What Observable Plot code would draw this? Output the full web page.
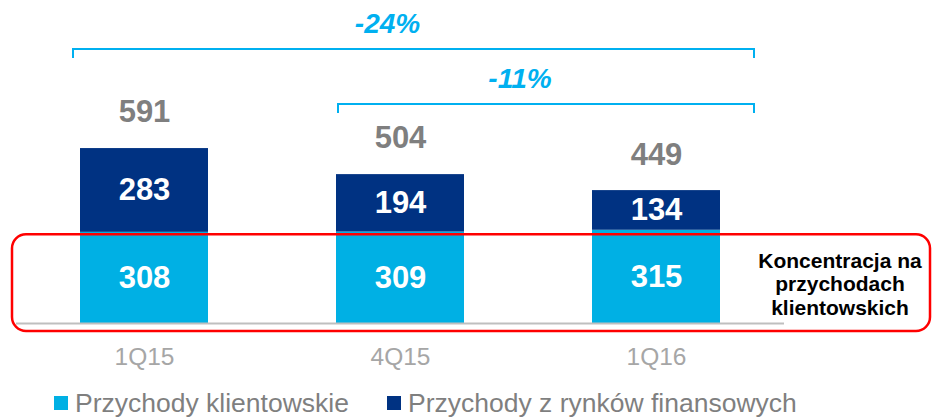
<!DOCTYPE html>
<html><head><meta charset="utf-8">
<script src="https://cdn.jsdelivr.net/npm/d3@7"></script>
<script src="https://cdn.jsdelivr.net/npm/@observablehq/plot@0.6"></script>
<style>
body{margin:0;background:#fff;font-family:"Liberation Sans",Arial,sans-serif;}
#chart{width:932px;height:372px;}
#legend{position:relative;height:46px;width:932px;font-size:26.5px;color:#7f7f7f;}
.li{position:absolute;top:16px;display:flex;align-items:center;white-space:nowrap;line-height:30px;}
.sw{width:14px;height:14px;margin-right:7px;display:inline-block;}
</style></head>
<body>
<div id="chart"></div>
<div id="legend"></div>
<script>
const categories = ["1Q15", "4Q15", "1Q16"];
const clientRevenue = [308, 309, 315];
const marketRevenue = [283, 194, 134];
const totals = [591, 504, 449];
const seriesNames = ["Przychody klientowskie", "Przychody z rynków finansowych"];
const brackets = [
  {from: "1Q15", to: "1Q16", label: "-24%", level: 926},
  {from: "4Q15", to: "1Q16", label: "-11%", level: 740}
];
const noteLines = ["Koncentracja na", "przychodach", "klientowskich"];

const cLight = "#00b0e4", cDark = "#003282", cAccent = "#00b0f0";
const font = "Liberation Sans, Arial, sans-serif";

const segs = [];
categories.forEach((c, i) => {
  segs.push({cat: c, series: seriesNames[0], y1: 0, y2: clientRevenue[i], v: clientRevenue[i]});
  segs.push({cat: c, series: seriesNames[1], y1: clientRevenue[i], y2: clientRevenue[i] + marketRevenue[i], v: marketRevenue[i]});
});
const tot = categories.map((c, i) => ({cat: c, v: totals[i]}));

const plot = Plot.plot({
  width: 932, height: 372,
  marginTop: 27, marginBottom: 49, marginLeft: 16, marginRight: 148,
  style: {fontFamily: font, overflow: "visible"},
  x: {domain: categories, paddingInner: 0.5, paddingOuter: 0.25, axis: null},
  y: {domain: [0, 1000], axis: null},
  color: {domain: seriesNames, range: [cLight, cDark]},
  marks: [
    Plot.rectY(segs, {x: "cat", y1: "y1", y2: "y2", fill: "series"}),
    Plot.ruleY([0], {stroke: "#bfbfbf", strokeWidth: 2}),
    Plot.text(segs, {x: "cat", y: d => (d.y1 + d.y2) / 2, text: d => String(d.v), fill: "white", fontSize: 31, fontWeight: "bold", lineAnchor: "middle"}),
    Plot.text(tot, {x: "cat", y: "v", dy: -36, text: d => String(d.v), fill: "#7f7f7f", fontSize: 31, fontWeight: "bold", lineAnchor: "middle"}),
    Plot.text(categories, {x: d => d, y: () => 0, dy: 34, text: d => d, fill: "#a6a6a6", fontSize: 24.5, lineAnchor: "middle"})
  ]
});
document.getElementById("chart").appendChild(plot);

// annotations using Plot's own scales
const xs = plot.scale("x"), ys = plot.scale("y");
const bw = xs.bandwidth;
const svg = d3.select(plot);
const g = svg.append("g");
brackets.forEach((b, k) => {
  const x1 = xs.apply(b.from) + (k === 0 ? -7 : 2);
  const x2 = xs.apply(b.to) + bw + 34;
  const y = ys.apply(b.level), yb = y + 9;
  g.append("path").attr("d", `M${x1},${yb}V${y}H${x2}V${yb}`)
    .attr("fill", "none").attr("stroke", cAccent).attr("stroke-width", 2);
  g.append("text").attr("x", (x1 + x2) / 2 - 26).attr("y", y - 25)
    .attr("text-anchor", "middle").attr("dominant-baseline", "central")
    .attr("font-family", font).attr("font-size", 28).attr("font-weight", "bold")
    .attr("font-style", "italic").attr("fill", cAccent).text(b.label);
});
// red highlight box
const xr = xs.range;
g.append("rect").attr("x", xr[0] - 4).attr("y", ys.apply(300))
  .attr("width", 930 - (xr[0] - 4)).attr("height", ys.apply(-27) - ys.apply(300))
  .attr("rx", 14).attr("fill", "none").attr("stroke", "#ff0000").attr("stroke-width", 2.5);
const nt = g.append("text").attr("x", 840).attr("text-anchor", "middle")
  .attr("font-family", font).attr("font-size", 21).attr("font-weight", "bold").attr("fill", "#000");
noteLines.forEach((l, i) => nt.append("tspan").attr("x", 840).attr("y", 260 + i * 23.5).attr("dominant-baseline", "central").text(l));

// legend
const lg = document.getElementById("legend");
const lx = [54, 387];
seriesNames.forEach((s, i) => {
  const d = document.createElement("div");
  d.className = "li"; d.style.left = lx[i] + "px";
  d.innerHTML = `<span class="sw" style="background:${[cLight, cDark][i]}"></span>${s}`;
  lg.appendChild(d);
});
</script>
</body></html>
